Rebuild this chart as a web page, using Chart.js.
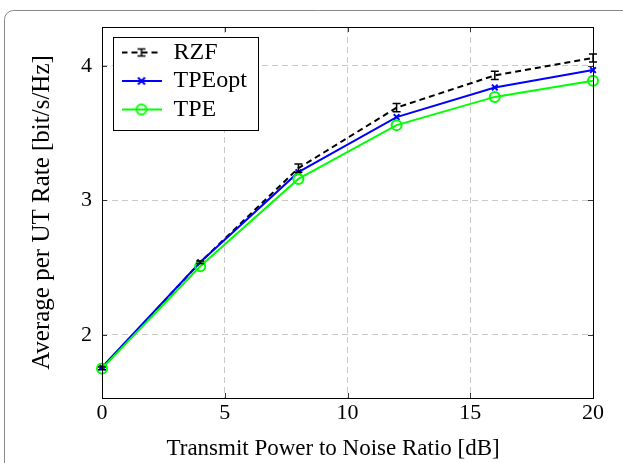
<!DOCTYPE html>
<html>
<head>
<meta charset="utf-8">
<script src="https://cdn.jsdelivr.net/npm/chart.js@4/dist/chart.umd.min.js"></script>
<style>
body { margin: 0; background: #fff; }
#wrap { width: 623px; height: 463px; }
</style>
</head>
<body>
<div id="wrap"><canvas id="chart-area" width="623" height="463"></canvas></div>
<script>
// values
var snr = [0, 4, 8, 12, 16, 20];
var rzf = [1.75, 2.54, 3.24, 3.69, 3.93, 4.06];
var rzfErr = [0.01, 0.01, 0.03, 0.03, 0.03, 0.03];
var tpeOpt = [1.76, 2.54, 3.21, 3.62, 3.84, 3.97];
var tpe = [1.75, 2.51, 3.16, 3.56, 3.77, 3.89];
var xTicks = [0, 5, 10, 15, 20];
var yTicks = [2, 3, 4];
var seriesNames = ['RZF', 'TPEopt', 'TPE'];

var serif = "'Liberation Serif', 'DejaVu Serif', serif";
var colors = { rzf: '#000000', opt: '#0000ff', tpe: '#00ff00' };
var nb = '\u00a0';

function pts(ys) {
	return snr.map(function (x, i) { return { x: x, y: ys[i] }; });
}

// little legend glyphs: line + marker, like pgfplots
function legendGlyph(kind) {
	var c = document.createElement('canvas');
	c.width = 40; c.height = 14;
	var g = c.getContext('2d');
	g.lineWidth = 2;
	if (kind === 0) {
		g.strokeStyle = colors.rzf;
		g.setLineDash([6, 4]);
		g.beginPath(); g.moveTo(0, 7); g.lineTo(40, 7); g.stroke();
		g.setLineDash([]);
		g.lineWidth = 1.5;
		g.beginPath();
		g.moveTo(20, 3); g.lineTo(20, 11);
		g.moveTo(16, 3.5); g.lineTo(24, 3.5);
		g.moveTo(16, 10.5); g.lineTo(24, 10.5);
		g.stroke();
	} else if (kind === 1) {
		g.strokeStyle = colors.opt;
		g.beginPath(); g.moveTo(0, 7); g.lineTo(40, 7); g.stroke();
		g.beginPath();
		g.moveTo(16.5, 3.5); g.lineTo(23.5, 10.5);
		g.moveTo(23.5, 3.5); g.lineTo(16.5, 10.5);
		g.stroke();
	} else {
		g.strokeStyle = colors.tpe;
		g.beginPath(); g.moveTo(0, 7); g.lineTo(40, 7); g.stroke();
		g.beginPath(); g.arc(20, 7, 5, 0, Math.PI * 2); g.stroke();
	}
	return c;
}
var glyphs = [legendGlyph(0), legendGlyph(1), legendGlyph(2)];

var framePlugin = {
	id: 'frame',
	beforeDraw: function (chart) {
		var ctx = chart.ctx;
		ctx.save();
		ctx.strokeStyle = '#8a8a8a';
		ctx.lineWidth = 1;
		ctx.beginPath();
		ctx.roundRect(4.5, 10.5, 700, 600, 9);
		ctx.stroke();
		ctx.restore();
	},
	afterLayout: function (chart) {
		var lg = chart.legend;
		if (!lg || lg._boxed) return;
		var orig = lg.draw.bind(lg);
		// legend sits in the plot's upper left corner, inside a white box
		lg.draw = function () {
			var hb = lg.legendHitBoxes;
			var ctx = chart.ctx;
			ctx.save();
			if (hb && hb.length) {
				var l = Infinity, t = Infinity, r = -Infinity, b = -Infinity;
				hb.forEach(function (h) {
					l = Math.min(l, h.left); t = Math.min(t, h.top);
					r = Math.max(r, h.left + h.width); b = Math.max(b, h.top + h.height);
				});
				var fx = 112, fy = 36;
				ctx.translate(Math.round(fx + 9 - l), Math.round(fy + 4 - t));
				ctx.fillStyle = '#fff';
				ctx.strokeStyle = '#000';
				ctx.lineWidth = 1;
				var w = Math.round(r - l + 20), h = Math.round(b - t + 12);
				ctx.fillRect(Math.round(l - 9), Math.round(t - 4), w, h);
				ctx.strokeRect(Math.round(l - 9) + 0.5, Math.round(t - 4) + 0.5, w, h);
			}
			orig();
			ctx.restore();
		};
		lg._boxed = true;
	},
	afterDatasetsDraw: function (chart) {
		// error bars on RZF
		var ctx = chart.ctx, xs = chart.scales.x, ys = chart.scales.y;
		ctx.save();
		ctx.strokeStyle = colors.rzf;
		ctx.lineWidth = 1.5;
		snr.forEach(function (v, i) {
			var px = xs.getPixelForValue(v);
			var y1 = ys.getPixelForValue(rzf[i] + rzfErr[i]);
			var y2 = ys.getPixelForValue(rzf[i] - rzfErr[i]);
			ctx.beginPath();
			ctx.moveTo(px, y1); ctx.lineTo(px, y2);
			ctx.moveTo(px - 4, y1); ctx.lineTo(px + 4, y1);
			ctx.moveTo(px - 4, y2); ctx.lineTo(px + 4, y2);
			ctx.stroke();
		});
		ctx.restore();
	},
	afterDraw: function (chart) {
		var ctx = chart.ctx, a = chart.chartArea, xs = chart.scales.x, ys = chart.scales.y;
		ctx.save();
		ctx.strokeStyle = '#333';
		ctx.lineWidth = 1;
		ctx.beginPath();
		xTicks.forEach(function (v) {
			var px = Math.round(xs.getPixelForValue(v)) + 0.5;
			ctx.moveTo(px, a.bottom); ctx.lineTo(px, a.bottom - 5);
			ctx.moveTo(px, a.top); ctx.lineTo(px, a.top + 5);
		});
		yTicks.forEach(function (v) {
			var py = Math.round(ys.getPixelForValue(v)) + 0.5;
			ctx.moveTo(a.left, py); ctx.lineTo(a.left + 5, py);
			ctx.moveTo(a.right, py); ctx.lineTo(a.right - 5, py);
		});
		ctx.stroke();
		ctx.strokeStyle = '#000';
		ctx.strokeRect(Math.round(a.left) + 0.5, Math.round(a.top) + 0.5, Math.round(a.right - a.left), Math.round(a.bottom - a.top));
		ctx.restore();
	}
};

var config = {
	type: 'line',
	data: {
		datasets: [{
			label: seriesNames[0],
			data: pts(rzf),
			borderColor: colors.rzf,
			borderWidth: 2,
			borderDash: [6, 4],
			pointRadius: 0,
			clip: false,
			order: 2
		}, {
			label: seriesNames[1],
			data: pts(tpeOpt),
			borderColor: colors.opt,
			backgroundColor: colors.opt,
			borderWidth: 2,
			pointStyle: 'crossRot',
			pointRadius: 4,
			pointBorderWidth: 2,
			clip: false,
			order: 1
		}, {
			label: seriesNames[2],
			data: pts(tpe),
			borderColor: colors.tpe,
			backgroundColor: 'rgba(0,0,0,0)',
			borderWidth: 2,
			pointStyle: 'circle',
			pointRadius: 5,
			pointBorderWidth: 2,
			clip: false,
			order: 0
		}]
	},
	options: {
		responsive: false,
		animation: false,
		layout: { padding: { left: 0, top: 27, right: 30, bottom: 0 } },
		plugins: {
			tooltip: { enabled: false },
			legend: {
				position: 'chartArea',
				align: 'start',
				labels: {
					usePointStyle: true,
					pointStyleWidth: 40,
					padding: 4.5,
					color: '#000',
					font: { family: serif, size: 24 },
					sort: function (a, b) { return a.datasetIndex - b.datasetIndex; },
					generateLabels: function (chart) {
						var items = Chart.defaults.plugins.legend.labels.generateLabels(chart);
						items.forEach(function (it) { it.pointStyle = glyphs[it.datasetIndex]; });
						return items;
					}
				}
			}
		},
		scales: {
			x: {
				type: 'linear',
				min: 0,
				max: 20,
				afterFit: function (s) { s.height = 65; },
				afterBuildTicks: function (s) { s.ticks = xTicks.map(function (v) { return { value: v }; }); },
				grid: { color: '#c8c8c8', lineWidth: 1, drawTicks: false },
				border: { display: false, dash: [6, 4] },
				ticks: { color: '#000', padding: 2, font: { family: serif, size: 22 } },
				title: {
					display: true,
					text: 'Transmit Power to Noise Ratio [dB]' + nb + nb + nb + nb + nb,
					color: '#000',
					font: { family: serif, size: 23 },
					padding: { top: 0, bottom: 0 }
				}
			},
			y: {
				type: 'linear',
				min: 1.53,
				max: 4.29,
				afterFit: function (s) { s.width = 102; },
				afterBuildTicks: function (s) { s.ticks = yTicks.map(function (v) { return { value: v }; }); },
				grid: { color: '#c8c8c8', lineWidth: 1, drawTicks: false },
				border: { display: false, dash: [6, 4] },
				ticks: { color: '#000', padding: 10, font: { family: serif, size: 22 } },
				title: {
					display: true,
					text: 'Average per UT Rate [bit/s/Hz]',
					color: '#000',
					font: { family: serif, size: 25 },
					padding: { top: 27, bottom: 0 }
				}
			}
		}
	},
	plugins: [framePlugin]
};

window.onload = function () {
	var ctx = document.getElementById('chart-area').getContext('2d');
	window.myLine = new Chart(ctx, config);
};
</script>
</body>
</html>
